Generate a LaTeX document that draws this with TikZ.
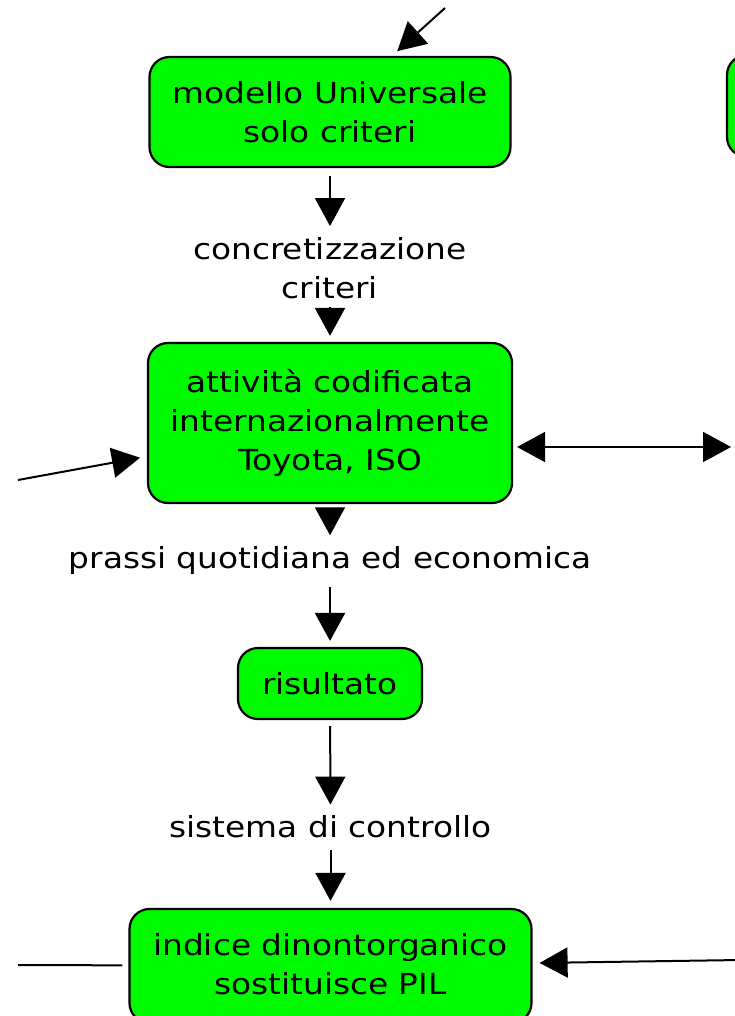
\documentclass[tikz,border=0pt]{standalone}
\usepackage{fontspec}
\newfontfamily\cmfont[FakeStretch=1.13]{DejaVu Sans}
\usetikzlibrary{arrows.meta}
\definecolor{boxgreen}{RGB}{0,250,0}
\begin{document}
\begin{tikzpicture}[x=1pt,y=-1pt,
  txt/.style={font=\cmfont\fontsize{29}{39}\selectfont},
  box/.style={txt, draw=black, line width=2.2pt, fill=boxgreen, rounded corners=20pt, inner sep=0pt, align=center},
  lbl/.style={txt, inner sep=0pt, align=center},
  arr/.style={line width=2pt, -{Triangle[width=30pt,length=28pt]}},
  dblarr/.style={line width=2pt, {Triangle[width=30pt,length=28pt]}-{Triangle[width=30pt,length=28pt]}},
  plain/.style={line width=2pt}
  ]
\useasboundingbox (0,0) rectangle (735,1016);
% boxes
\node[box, minimum width=361pt, minimum height=110pt] (b1) at (330,112) {modello Universale\\solo criteri};
\node[box, minimum width=364pt, minimum height=160pt] (b2) at (330,423) {attività codificata\\internazionalmente\\Toyota, ISO};
\node[box, minimum width=184pt, minimum height=71pt] (b3) at (330,683.5) {risultato};
\node[box, minimum width=402pt, minimum height=114pt] (b4) at (330.5,966) {indice dinontorganico\\sostituisce PIL\rule[-4pt]{0pt}{4pt}};
\node[box, minimum width=200pt, minimum height=102pt] (b5) at (827,106) {};
% labels
\node[lbl] (l1) at (330,268) {concretizzazione\\criteri};
\node[lbl] (l2) at (330,560.5) {prassi quotidiana ed economica};
\node[lbl] (l3) at (330.5,827) {sistema di controllo};
% free ends
\coordinate (tA) at (445,8);
\coordinate (lA) at (18,480);
\coordinate (rC) at (731,447);
\coordinate (lD) at (18,965);
\coordinate (rD) at (740,960);
% connectors
\draw[arr, shorten >=7pt] (tA) -- (b1);
\draw[arr, shorten <=8pt, shorten >=11pt] (b1) -- (l1);
\draw[arr, shorten <=8pt, shorten >=6pt] (l1) -- (b2);
\draw[arr, shorten >=7pt] (lA) -- (b2);
\draw[dblarr, shorten <=4pt] (b2.east |- rC) -- (rC);
\draw[arr, shorten <=5pt, shorten >=11pt] (b2) -- (l2);
\draw[arr, shorten <=12pt, shorten >=6pt] (l2) -- (b3);
\draw[arr, shorten <=6pt, shorten >=11pt] (b3) -- (l3);
\draw[arr, shorten <=12pt, shorten >=7pt] (l3) -- (b4);
\draw[plain, shorten >=6pt] (lD) -- (b4);
\draw[arr, shorten >=7pt] (rD) -- (b4);
\end{tikzpicture}
\end{document}
